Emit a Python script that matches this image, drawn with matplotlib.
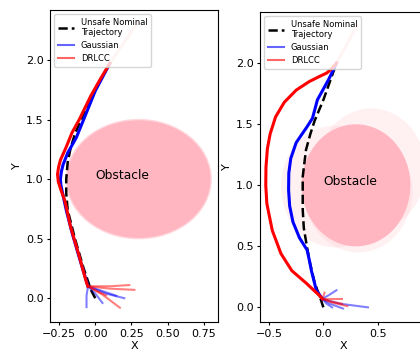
import numpy as np
import matplotlib
matplotlib.use("Agg")
import matplotlib.pyplot as plt
from matplotlib.patches import Circle

plt.rcParams['font.size'] = 8.0
plt.rcParams['xtick.major.size'] = 2.5
plt.rcParams['ytick.major.size'] = 2.5
plt.rcParams['xtick.major.pad'] = 2.2
plt.rcParams['ytick.major.pad'] = 2.2
plt.rcParams['axes.linewidth'] = 0.8

# ---- left panel data (x, y) ----
left_nominal = np.array([(0.0, 0.0), (-0.03, 0.07), (-0.08, 0.25), (-0.14, 0.5), (-0.19, 0.74),
                         (-0.2, 0.88), (-0.2, 1.0), (-0.19, 1.14), (-0.17, 1.26), (-0.14, 1.38),
                         (-0.08, 1.55), (0.0, 1.75), (0.1, 1.97)])
left_gauss = np.array([(-0.05, 0.1), (-0.1, 0.3), (-0.16, 0.55), (-0.2, 0.74), (-0.225, 0.88),
                       (-0.237, 0.95), (-0.24, 1.0), (-0.234, 1.06), (-0.222, 1.12), (-0.19, 1.22),
                       (-0.13, 1.35), (-0.07, 1.53), (0.0, 1.74), (0.1, 1.97)])
left_drlcc = np.array([(-0.05, 0.1), (-0.06, 0.13), (-0.11, 0.35), (-0.17, 0.6), (-0.21, 0.82),
                       (-0.24, 0.92), (-0.255, 0.98), (-0.26, 1.04), (-0.253, 1.1), (-0.24, 1.16),
                       (-0.2, 1.27), (-0.16, 1.39), (-0.11, 1.5), (-0.03, 1.7), (0.04, 1.85),
                       (0.1, 1.97)])
left_tail = np.array([(0.1, 1.97), (0.29, 2.31)])
left_gauss_starts = [[(-0.06, -0.075), (-0.06, 0.02), (-0.05, 0.1)],
                     [(0.2, 0.0), (0.07, 0.04), (-0.05, 0.1)],
                     [(0.05, -0.04), (0.0, 0.04), (-0.05, 0.1)],
                     [(0.145, 0.02), (0.05, 0.06), (-0.05, 0.1)]]
left_drlcc_starts = [[(0.235, 0.11), (0.1, 0.1), (-0.05, 0.1)],
                     [(0.27, 0.07), (0.1, 0.08), (-0.05, 0.1)],
                     [(0.17, -0.08), (0.05, 0.03), (-0.05, 0.1)],
                     [(0.075, 0.025), (0.01, 0.06), (-0.05, 0.1)]]

# ---- right panel data (x, y) ----
right_nominal = np.array([(0.0, 0.0), (-0.03, 0.08), (-0.08, 0.2), (-0.12, 0.35), (-0.15, 0.49),
                          (-0.18, 0.65), (-0.19, 0.8), (-0.19, 1.07), (-0.16, 1.29), (-0.12, 1.42),
                          (-0.08, 1.53), (0.0, 1.7), (0.12, 2.0)])
right_gauss = np.array([(-0.01, 0.07), (-0.065, 0.14), (-0.11, 0.3), (-0.13, 0.39), (-0.15, 0.47),
                        (-0.22, 0.57), (-0.28, 0.7), (-0.31, 0.83), (-0.32, 0.96), (-0.318, 1.1),
                        (-0.3, 1.22), (-0.25, 1.35), (-0.15, 1.48), (-0.1, 1.55), (-0.055, 1.7),
                        (0.05, 1.87), (0.12, 2.0)])
right_drlcc = np.array([(-0.01, 0.07), (-0.04, 0.1), (-0.16, 0.2), (-0.29, 0.3), (-0.39, 0.44),
                        (-0.47, 0.63), (-0.52, 0.85), (-0.53, 1.0), (-0.528, 1.15), (-0.515, 1.3),
                        (-0.49, 1.42), (-0.44, 1.56), (-0.36, 1.68), (-0.25, 1.78), (-0.13, 1.85),
                        (-0.04, 1.89), (0.03, 1.92), (0.07, 1.95), (0.12, 2.0)])
right_tail = np.array([(0.12, 2.0), (0.31, 2.31)])
right_gauss_starts = [[(0.41, 0.0), (0.15, 0.03), (-0.01, 0.07)],
                      [(0.12, 0.14), (0.05, 0.1), (-0.01, 0.07)],
                      [(0.18, -0.01), (0.06, 0.03), (-0.01, 0.07)],
                      [(0.08, 0.0), (0.03, 0.03), (-0.01, 0.07)]]
right_drlcc_starts = [[(0.01, 0.12), (0.0, 0.09), (-0.01, 0.07)],
                      [(0.17, 0.07), (0.07, 0.07), (-0.01, 0.07)],
                      [(0.22, 0.01), (0.08, 0.04), (-0.01, 0.07)],
                      [(0.17, 0.03), (0.06, 0.05), (-0.01, 0.07)]]

obstacle_center = (0.3, 1.0)
obstacle_r = 0.5
right_unc_centers = [(0.44, 1.13), (0.11, 0.99), (0.32, 0.95)]


def draw_panel(ax, nominal, gauss, drlcc, tail, g_starts, d_starts):
    ax.plot(nominal[:, 0], nominal[:, 1], 'k--', lw=1.8, label='Unsafe Nominal\nTrajectory')
    for s in g_starts:
        s = np.array(s)
        ax.plot(s[:, 0], s[:, 1], color='blue', alpha=0.5, lw=1.5)
    for s in d_starts:
        s = np.array(s)
        ax.plot(s[:, 0], s[:, 1], color='red', alpha=0.5, lw=1.5)
    ax.plot(gauss[:, 0], gauss[:, 1], color='blue', lw=2.2)
    ax.plot(drlcc[:, 0], drlcc[:, 1], color='red', lw=2.2)
    ax.plot(tail[:, 0], tail[:, 1], color='red', alpha=0.2, lw=2.2)
    # legend proxies
    ax.plot([], [], color='blue', alpha=0.6, lw=1.5, label='Gaussian')
    ax.plot([], [], color='red', alpha=0.6, lw=1.5, label='DRLCC')
    ax.text(0.0, 1.0, 'Obstacle', fontsize=8.8)
    ax.set_xlabel('X', labelpad=2)
    ax.set_ylabel('Y', labelpad=2.5)
    ax.legend(loc='upper left', fontsize=6, handlelength=2.0)


fig = plt.figure(figsize=(4.2, 3.52), dpi=100)
ax1 = fig.add_axes([50 / 420, 30 / 352, 168 / 420, 312 / 352])
ax2 = fig.add_axes([260 / 420, 30 / 352, 166 / 420, 310 / 352])

ax1.add_patch(Circle(obstacle_center, obstacle_r, color='lightpink', ec='#ffd8de', lw=1))
draw_panel(ax1, left_nominal, left_gauss, left_drlcc, left_tail, left_gauss_starts, left_drlcc_starts)
ax1.set_xlim(-0.312, 0.847)
ax1.set_ylim(-0.2, 2.42)

for c in right_unc_centers:
    ax2.add_patch(Circle(c, obstacle_r, color='lightpink', alpha=0.2, lw=0))
ax2.add_patch(Circle(obstacle_center, obstacle_r, color='lightpink', lw=0))
draw_panel(ax2, right_nominal, right_gauss, right_drlcc, right_tail, right_gauss_starts, right_drlcc_starts)
ax2.set_xlim(-0.583, 0.944)
ax2.set_ylim(-0.12, 2.42)

fig.savefig('out.png', dpi=100)
